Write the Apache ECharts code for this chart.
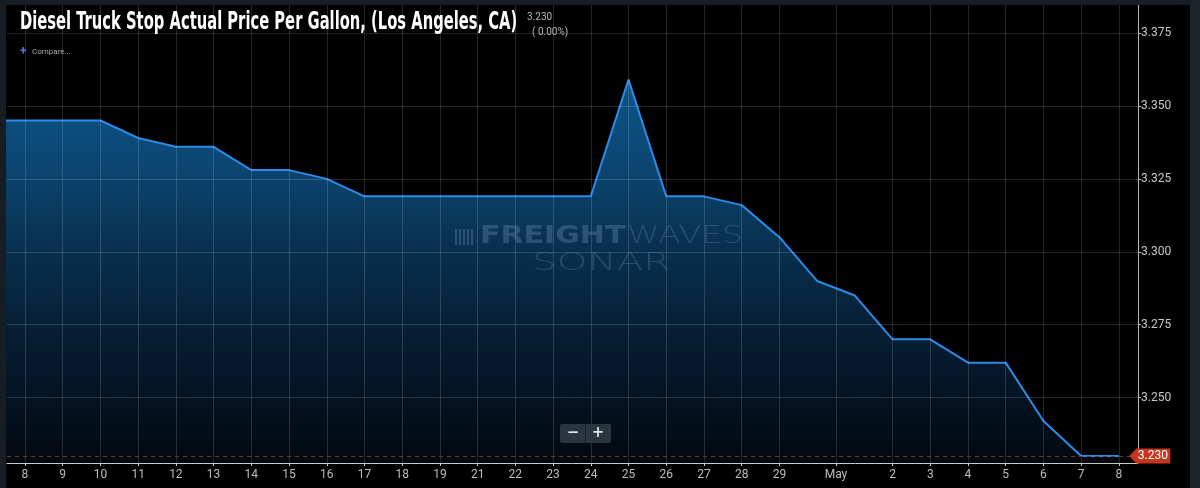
<!DOCTYPE html>
<html>
<head>
<meta charset="utf-8">
<script src="https://cdn.jsdelivr.net/npm/echarts@6/dist/echarts.min.js"></script>
<style>
html,body{margin:0;padding:0;background:#000;}
#chart{width:1200px;height:488px;}
</style>
</head>
<body>
<div id="chart"></div>
<script>
// ---- data ----
const dates = ['Apr 7','Apr 8','Apr 9','Apr 10','Apr 11','Apr 12','Apr 13','Apr 14','Apr 15','Apr 16',
  'Apr 17','Apr 18','Apr 19','Apr 21','Apr 22','Apr 23','Apr 24','Apr 25','Apr 26','Apr 27','Apr 28',
  'Apr 29','Apr 30','May 1','May 2','May 3','May 4','May 5','May 6','May 7','May 8'];
const prices = [3.345,3.345,3.345,3.345,3.339,3.336,3.336,3.328,3.328,3.325,
  3.319,3.319,3.319,3.319,3.319,3.319,3.319,3.359,3.319,3.319,3.316,
  3.305,3.290,3.285,3.270,3.270,3.262,3.262,3.242,3.230,3.230];
const xTickLabels = ['8','9','10','11','12','13','14','15','16','17','18','19','21','22','23','24',
  '25','26','27','28','29','May','2','3','4','5','6','7','8'];
const yTickValues = [3.250,3.275,3.300,3.325,3.350,3.375];

const titleText = 'Diesel Truck Stop Actual Price Per Gallon, (Los Angeles, CA)';
const lastPrice = prices[prices.length-1];
const changeText = '( 0.00%)';

// x position of each point = its index, shifted so that 'Apr 8' is 0
const pts = prices.map((p,i)=>[i-1,p]);
// tick positions: a day label sits on its point, the month name between the last day and day 1
const mayIdx = xTickLabels.indexOf('May');
const xTickPos = xTickLabels.map((lab,k)=>{
  if (isNaN(+lab)) {
    const i1 = dates.indexOf(lab+' 1');
    return (i1-1 + i1-2)/2;
  }
  const monthOf = k > mayIdx ? 'May' : 'Apr';
  return dates.indexOf(monthOf+' '+lab)-1;
});
function xLabel(v){
  let best=0,bd=1e9;
  xTickPos.forEach((p,k)=>{const d=Math.abs(p-v); if(d<bd){bd=d;best=k;}});
  return xTickLabels[best];
}

const chart = echarts.init(document.getElementById('chart'));
const gridCol = 'rgba(255,255,255,0.15)';
const wm = 'rgba(130,160,190,0.30)';
const wmLight = 'rgba(130,160,190,0.26)';
chart.setOption({
  backgroundColor:'#000',
  animation:false,
  grid:{left:7,right:62,top:5,bottom:25},
  xAxis:{
    type:'value', min:-0.477, max:29.507, z:3,
    axisLine:{show:true,onZero:false,lineStyle:{color:'#c8c8c8',width:1}},
    axisTick:{show:true,length:3,lineStyle:{color:'#c8c8c8'},customValues:xTickPos},
    axisLabel:{customValues:xTickPos,formatter:xLabel,color:'#bdbdbd',fontSize:12,margin:6,fontFamily:'Roboto'},
    splitLine:{show:true,lineStyle:{color:gridCol,width:1}}
  },
  yAxis:{
    type:'value', position:'right', min:3.2276, max:3.3846, z:3,
    axisLine:{show:true,onZero:false,lineStyle:{color:'#b8b8b8',width:1}},
    axisTick:{show:true,length:3,lineStyle:{color:'#b8b8b8'},customValues:yTickValues},
    axisLabel:{customValues:yTickValues,formatter:v=>v.toFixed(3),color:'#c8c8c8',fontSize:12,margin:3,fontFamily:'Roboto'},
    splitLine:{show:true,lineStyle:{color:gridCol,width:1}}
  },
  series:[{
    type:'line', data:pts, symbol:'none', clip:false, z:2,
    lineStyle:{color:'#2a8ce6',width:2},
    areaStyle:{opacity:1,color:new echarts.graphic.LinearGradient(0,0,0,1,[
      {offset:0,color:'rgb(13,84,136)'},
      {offset:0.235,color:'rgb(11,69,112)'},
      {offset:0.44,color:'rgb(8,48,79)'},
      {offset:0.65,color:'rgb(6,31,53)'},
      {offset:0.835,color:'rgb(4,18,34)'},
      {offset:1,color:'rgb(3,8,15)'}
    ])},
    markLine:{silent:true,symbol:'none',animation:false,z:4,
      data:[{yAxis:lastPrice}],
      lineStyle:{type:[4,4],color:'#6e3a22',width:1},
      label:{show:false}},
    markPoint:{silent:true,animation:false,z:6,
      data:[{coord:[pts[pts.length-1][0],lastPrice],value:lastPrice}],
      symbol:'path://M0,7.5 L7,0 L41,0 L41,15 L7,15 Z',
      symbolSize:[41,15], symbolKeepAspect:false, symbolOffset:[31,0],
      itemStyle:{color:'#c4361e'},
      label:{show:true,position:'inside',offset:[3,0],formatter:p=>p.value.toFixed(3),color:'#fff',fontSize:12,fontFamily:'Roboto'}}
  }],
  graphic:[
    {type:'rect',z:100,silent:true,shape:{x:0,y:0,width:1200,height:5},style:{fill:'#161d24'}},
    {type:'rect',z:100,silent:true,shape:{x:0,y:0,width:6,height:488},style:{fill:'#161d24'}},
    {type:'rect',z:100,silent:true,shape:{x:1190,y:0,width:10,height:488},style:{fill:'#1c2329'}},
    {type:'text',z:101,silent:true,x:20,y:23,scaleX:0.683,
      style:{text:titleText,font:'bold 24px "Liberation Sans Narrow","DejaVu Sans Condensed",sans-serif',fill:'#ffffff',verticalAlign:'middle',align:'left'}},
    {type:'text',z:101,silent:true,x:527,y:17,
      style:{text:lastPrice.toFixed(3),font:'10px Roboto,sans-serif',fill:'#b5b5b5',verticalAlign:'middle'}},
    {type:'text',z:101,silent:true,x:532,y:32,
      style:{text:changeText,font:'10px Roboto,sans-serif',fill:'#b5b5b5',verticalAlign:'middle'}},
    {type:'text',z:101,silent:true,x:20,y:52,
      style:{text:'+',font:'bold 12px Roboto,sans-serif',fill:'#4a78e0',verticalAlign:'middle'}},
    {type:'text',z:101,silent:true,x:32,y:52,
      style:{text:'Compare...',font:'8px Roboto,sans-serif',fill:'#a8a8a8',verticalAlign:'middle'}},
    // watermark
    {type:'rect',z:50,silent:true,shape:{x:455,y:229,width:2,height:16},style:{fill:wm}},
    {type:'rect',z:50,silent:true,shape:{x:459,y:229,width:2,height:16},style:{fill:wm}},
    {type:'rect',z:50,silent:true,shape:{x:463,y:229,width:2,height:16},style:{fill:wm}},
    {type:'rect',z:50,silent:true,shape:{x:467,y:229,width:2,height:16},style:{fill:wm}},
    {type:'rect',z:50,silent:true,shape:{x:471,y:229,width:2,height:16},style:{fill:wm}},
    {type:'text',z:50,silent:true,x:480,y:237,scaleX:1.25,
      style:{text:'FREIGHT',font:'bold 24px "DejaVu Sans",sans-serif',fill:wm,verticalAlign:'middle'}},
    {type:'text',z:50,silent:true,x:627,y:237,scaleX:1.38,
      style:{text:'WAVES',font:'200 24px "DejaVu Sans",sans-serif',fill:wmLight,verticalAlign:'middle'}},
    {type:'text',z:50,silent:true,x:532,y:263,scaleX:1.56,
      style:{text:'SONAR',font:'200 25px "DejaVu Sans",sans-serif',fill:wmLight,verticalAlign:'middle'}},
    // zoom buttons
    {type:'rect',z:101,silent:true,shape:{x:560,y:424,width:51,height:19,r:2},style:{fill:'#2a3540'}},
    {type:'rect',z:102,silent:true,shape:{x:585,y:424,width:1,height:19},style:{fill:'#1a222a'}},
    {type:'text',z:102,silent:true,x:573,y:433.5,style:{text:'−',font:'bold 15px "DejaVu Sans",sans-serif',fill:'#e0e0e0',align:'center',verticalAlign:'middle'}},
    {type:'text',z:102,silent:true,x:598,y:433.5,style:{text:'+',font:'bold 15px "DejaVu Sans",sans-serif',fill:'#e0e0e0',align:'center',verticalAlign:'middle'}}
  ]
});
</script>
</body>
</html>
